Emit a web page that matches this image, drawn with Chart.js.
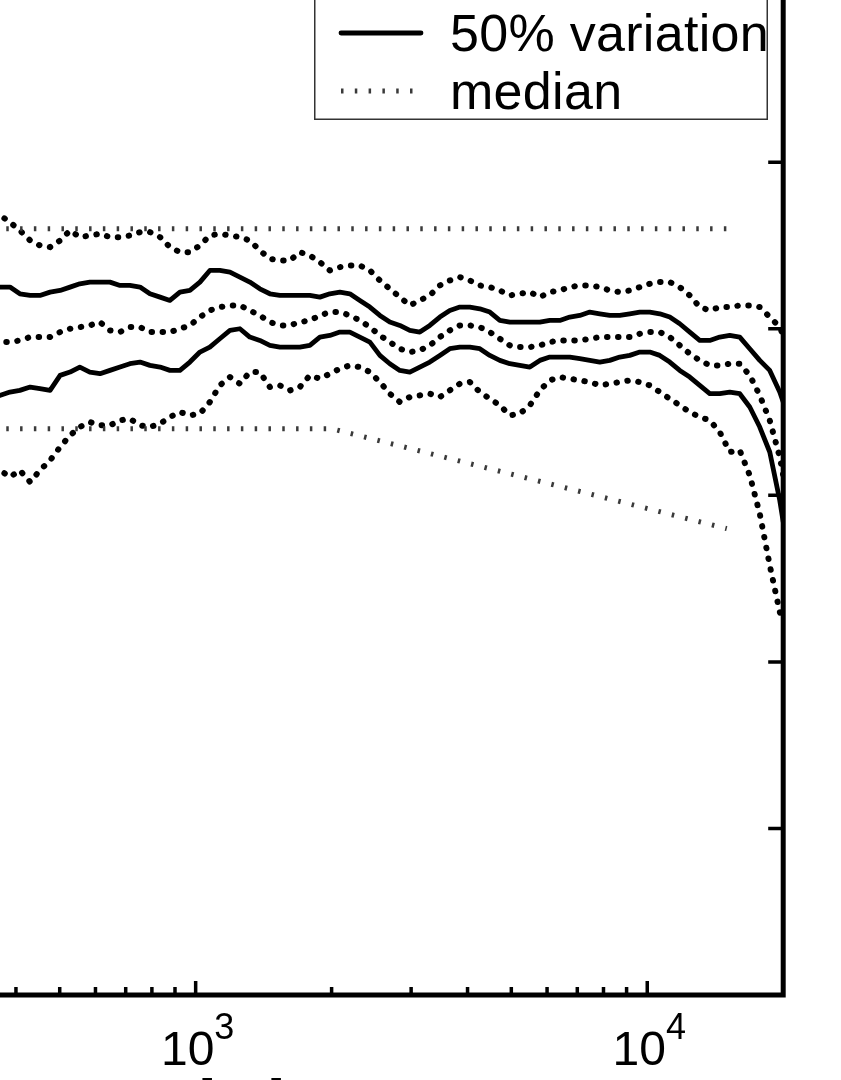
<!DOCTYPE html>
<html>
<head>
<meta charset="utf-8">
<script src="https://cdn.jsdelivr.net/npm/chart.js@4.4.1/dist/chart.umd.min.js"></script>
<style>
html,body{margin:0;padding:0;background:#fff;}
#view{position:relative;width:841px;height:1080px;overflow:hidden;background:#fff;}
#chart{position:absolute;left:-420px;top:-120px;}
#legend{position:absolute;left:314px;top:-54px;overflow:visible;}
</style>
</head>
<body>
<div id="view">
<canvas id="chart" width="1261" height="1260"></canvas>
<svg id="legend" width="454" height="174" xmlns="http://www.w3.org/2000/svg"></svg>
</div>
<script>

/* DATA : frequency [Hz] and level [dB] */

const freqHz = [360, 388, 408, 430, 452, 476, 501, 527, 554, 583,
614, 646, 680, 715, 753, 792, 834, 877, 923, 971,
1022, 1075, 1131, 1191, 1253, 1318, 1387, 1460, 1536, 1617,
1701, 1790, 1884, 1982, 2086, 2195, 2310, 2431, 2558, 2691,
2832, 2980, 3136, 3300, 3473, 3654, 3846, 4047, 4258, 4481,
4715, 4962, 5221, 5495, 5782, 6084, 6403, 6737, 7090, 7461,
7851, 8260, 8692, 9147, 9626, 10129, 10659, 11216, 11803, 12420,
13069, 13753, 14472, 15229, 16026, 16864, 17746, 18674, 19651, 20000];

const p90Upper = [7.0, 6.4, 5.9, 5.3, 5.0, 4.9, 5.3, 5.9, 5.5, 5.6,
5.7, 5.5, 5.5, 5.6, 5.8, 5.8, 5.5, 4.9, 4.6, 4.6,
5.0, 5.6, 5.7, 5.6, 5.5, 5.3, 4.7, 4.2, 4.1, 4.1,
4.6, 4.4, 4.0, 3.5, 3.7, 3.8, 3.8, 3.5, 2.9, 2.4,
1.9, 1.4, 1.7, 2.0, 2.6, 2.9, 3.1, 2.9, 2.6, 2.5,
2.3, 2.0, 2.1, 2.2, 1.9, 2.2, 2.3, 2.5, 2.6, 2.6,
2.5, 2.3, 2.2, 2.3, 2.5, 2.7, 2.8, 2.8, 2.5, 2.0,
1.3, 1.1, 1.3, 1.3, 1.4, 1.4, 1.3, 0.7, 0.1, -0.4];

const p50Upper = [2.5, 2.5, 2.1, 2.0, 2.0, 2.2, 2.3, 2.5, 2.7, 2.8,
2.8, 2.8, 2.6, 2.6, 2.5, 2.1, 1.9, 1.7, 2.2, 2.3,
2.8, 3.5, 3.5, 3.4, 3.1, 2.8, 2.4, 2.1, 2.0, 2.0,
2.0, 2.0, 1.9, 2.1, 2.2, 2.1, 1.7, 1.3, 0.8, 0.4,
0.2, -0.1, -0.2, 0.2, 0.7, 1.1, 1.3, 1.3, 1.2, 1.0,
0.5, 0.4, 0.4, 0.4, 0.4, 0.5, 0.5, 0.7, 0.8, 1.0,
0.9, 0.8, 0.8, 0.9, 1.0, 1.0, 0.9, 0.7, 0.3, -0.2,
-0.7, -0.7, -0.5, -0.4, -0.5, -1.2, -1.9, -2.5, -3.8, -4.4];

const medianDb = [-0.8, -0.8, -0.7, -0.5, -0.5, -0.5, -0.2, 0.0, 0.1, 0.2,
0.4, -0.1, -0.2, 0.1, 0.1, -0.2, -0.2, -0.2, 0.0, 0.2,
0.7, 1.1, 1.3, 1.4, 1.4, 1.1, 0.8, 0.4, 0.2, 0.2,
0.4, 0.5, 0.8, 1.0, 1.0, 0.8, 0.5, 0.1, -0.4, -0.8,
-1.2, -1.4, -1.3, -1.0, -0.5, -0.1, 0.2, 0.2, 0.1, -0.2,
-0.6, -1.0, -1.1, -1.1, -1.0, -0.8, -0.7, -0.7, -0.7, -0.6,
-0.5, -0.5, -0.5, -0.5, -0.3, -0.2, -0.2, -0.5, -1.0, -1.5,
-1.9, -2.2, -2.2, -2.1, -2.1, -2.8, -4.0, -5.5, -7.7, -8.8];

const p50Lower = [-4.1, -3.8, -3.7, -3.5, -3.6, -3.7, -2.8, -2.6, -2.3, -2.6,
-2.7, -2.5, -2.3, -2.1, -2.0, -2.2, -2.3, -2.5, -2.5, -2.0,
-1.4, -1.1, -0.6, -0.1, 0.0, -0.5, -0.7, -1.0, -1.1, -1.1,
-1.1, -1.0, -0.5, -0.4, -0.2, -0.2, -0.5, -0.8, -1.6, -2.1,
-2.5, -2.6, -2.3, -2.0, -1.6, -1.2, -1.1, -1.1, -1.2, -1.6,
-1.9, -2.1, -2.2, -2.3, -1.9, -1.7, -1.7, -1.7, -1.8, -1.9,
-2.0, -1.9, -1.7, -1.6, -1.4, -1.4, -1.6, -2.0, -2.5, -2.9,
-3.4, -3.9, -3.9, -3.8, -3.9, -4.7, -5.9, -7.4, -10.3, -11.6];

const p90Lower = [-8.3, -8.9, -8.5, -9.2, -8.5, -7.9, -7.1, -6.4, -5.9, -5.6,
-5.8, -5.8, -5.5, -5.4, -5.8, -5.9, -5.7, -5.3, -5.0, -5.2,
-5.1, -4.4, -3.4, -2.9, -3.3, -2.6, -2.6, -3.5, -3.4, -3.7,
-3.5, -2.8, -3.0, -2.7, -2.4, -2.2, -2.3, -2.6, -3.2, -3.9,
-4.4, -4.1, -4.0, -3.9, -4.1, -3.7, -3.3, -3.2, -3.8, -4.2,
-4.6, -5.2, -5.1, -4.6, -3.7, -3.1, -2.9, -3.0, -3.1, -3.2,
-3.4, -3.3, -3.2, -3.1, -3.2, -3.4, -3.8, -4.2, -4.6, -5.0,
-5.3, -5.5, -6.2, -7.4, -7.3, -8.8, -11.1, -14.2, -17.0, -17.6];

/* tolerance lines */

const limitHz = [100, 2000, 15000];
const limitUpper = [6, 6, 6];
const limitLower = [-6, -6, -12];

/* TICKS */

const xTickValues = [80, 90, 100, 200, 300, 400, 500, 600, 700, 800, 900,
1000, 2000, 3000, 4000, 5000, 6000, 7000, 8000, 9000, 10000, 20000];
const yTickValues = [-40, -30, -20, -10, 0, 10, 20];

const legendRows = [
{label:"90% variation", style:"dots"},
{label:"50% variation", style:"solid"},
{label:"median", style:"fine"}
];

const FONT = '"Liberation Sans", Arial, sans-serif';

/* LINE STYLES */

const STYLES = {
solid:{borderColor:"#000", borderWidth:4.8, borderDash:[], borderCapStyle:"round"},
dots:{borderColor:"#000", borderWidth:6, borderDash:[0.5,10.5], borderCapStyle:"round"},
fine:{borderColor:"#3a3a3a", borderWidth:5, borderDash:[2.5,11.3], borderCapStyle:"butt"}
};

function points(xs, ys){
return xs.map((x,i)=>({x:x, y:ys[i]}));
}

function line(label, xs, ys, style){
return Object.assign({
label:label,
data:points(xs, ys),
pointRadius:0,
fill:false,
tension:0,
borderJoinStyle:"round"
}, STYLES[style]);
}

let datasets = [
line("tolerance", limitHz, limitUpper, "fine"),
line("tolerance", limitHz, limitLower, "fine"),
line("90% variation", freqHz, p90Upper, "dots"),
line("90% variation", freqHz, p90Lower, "dots"),
line("median", freqHz, medianDb, "dots"),
line("50% variation", freqHz, p50Upper, "solid"),
line("50% variation", freqHz, p50Lower, "solid")
];

function isDecade(v){
let l = Math.log10(v);
return Math.abs(l - Math.round(l)) < 1e-9;
}

/* FRAME, INWARD TICKS, 10^n LABELS */

const framePlugin = {
id:"frame",
afterDatasetsDraw(chart){

let ctx = chart.ctx;
let a = chart.chartArea;
let x = chart.scales.x;
let y = chart.scales.y;

ctx.save();
ctx.strokeStyle = "#000";
ctx.lineCap = "butt";
ctx.lineWidth = 3.5;
ctx.beginPath();

y.ticks.forEach(t=>{
let py = y.getPixelForValue(t.value);
ctx.moveTo(a.left, py); ctx.lineTo(a.left + 15, py);
ctx.moveTo(a.right, py); ctx.lineTo(a.right - 15, py);
});

x.ticks.forEach(t=>{
let px = x.getPixelForValue(t.value);
let len = isDecade(t.value) ? 14 : 8;
ctx.moveTo(px, a.bottom); ctx.lineTo(px, a.bottom - len);
ctx.moveTo(px, a.top); ctx.lineTo(px, a.top + len);
});

ctx.stroke();

ctx.lineWidth = 5;
ctx.strokeRect(a.left, a.top, a.right - a.left, a.bottom - a.top);

ctx.fillStyle = "#000";
ctx.textAlign = "left";
ctx.textBaseline = "alphabetic";

x.ticks.forEach(t=>{
if(!isDecade(t.value)) return;
let px = x.getPixelForValue(t.value);
let exp = String(Math.round(Math.log10(t.value)));
ctx.font = "48px " + FONT;
let wBase = ctx.measureText("10").width;
ctx.font = "36px " + FONT;
let wExp = ctx.measureText(exp).width;
let x0 = px - (wBase + wExp)/2 + 2;
ctx.font = "48px " + FONT;
ctx.fillText("10", x0, a.bottom + 70);
ctx.font = "36px " + FONT;
ctx.fillText(exp, x0 + wBase, a.bottom + 44);
});

ctx.restore();

}
};

/* GRAPH */

const chart = new Chart(document.getElementById("chart"),{

type:"line",

data:{datasets:datasets},

options:{
responsive:false,
animation:false,
layout:{padding:{top:49, right:57.8, bottom:0, left:0}},

plugins:{
legend:{display:false},
tooltip:{enabled:false}
},

scales:{
x:{
type:"logarithmic",
min:80,
max:20000,
grid:{display:false},
border:{display:false},
ticks:{display:false},
afterBuildTicks:s=>{ s.ticks = xTickValues.map(v=>({value:v})); },
afterFit:s=>{ s.height = 145; },
title:{display:true, text:"[Hz]", color:"#000", font:{size:48, family:FONT}, padding:{top:0, bottom:11}}
},
y:{
type:"linear",
min:-40,
max:24,
grid:{display:false},
border:{display:false},
ticks:{color:"#000", font:{size:40, family:FONT}},
afterBuildTicks:s=>{ s.ticks = yTickValues.map(v=>({value:v})); },
afterFit:s=>{ s.width = 120.3; }
}
}

},

plugins:[framePlugin]

});

/* LEGEND (top right, inside the axes) */

const NS = "http://www.w3.org/2000/svg";
let svg = document.getElementById("legend");

function el(name, attrs, text){
let e = document.createElementNS(NS, name);
for(let k in attrs) e.setAttribute(k, attrs[k]);
if(text) e.textContent = text;
svg.appendChild(e);
return e;
}

el("rect", {x:0.75, y:0.75, width:452.5, height:172.5, fill:"#fff", stroke:"#333", "stroke-width":1.5});

legendRows.forEach((row,i)=>{
let st = STYLES[row.style];
let ly = 29 + i*58;
el("line", {
x1:27, y1:ly, x2:107, y2:ly,
stroke:st.borderColor,
"stroke-width":st.borderWidth,
"stroke-dasharray":st.borderDash.length ? st.borderDash.join(" ") : "none",
"stroke-linecap":st.borderCapStyle
});
el("text", {x:136, y:ly + 18, "font-family":FONT, "font-size":52, "letter-spacing":0.3, fill:"#000"}, row.label);
});

</script>
</body>
</html>
